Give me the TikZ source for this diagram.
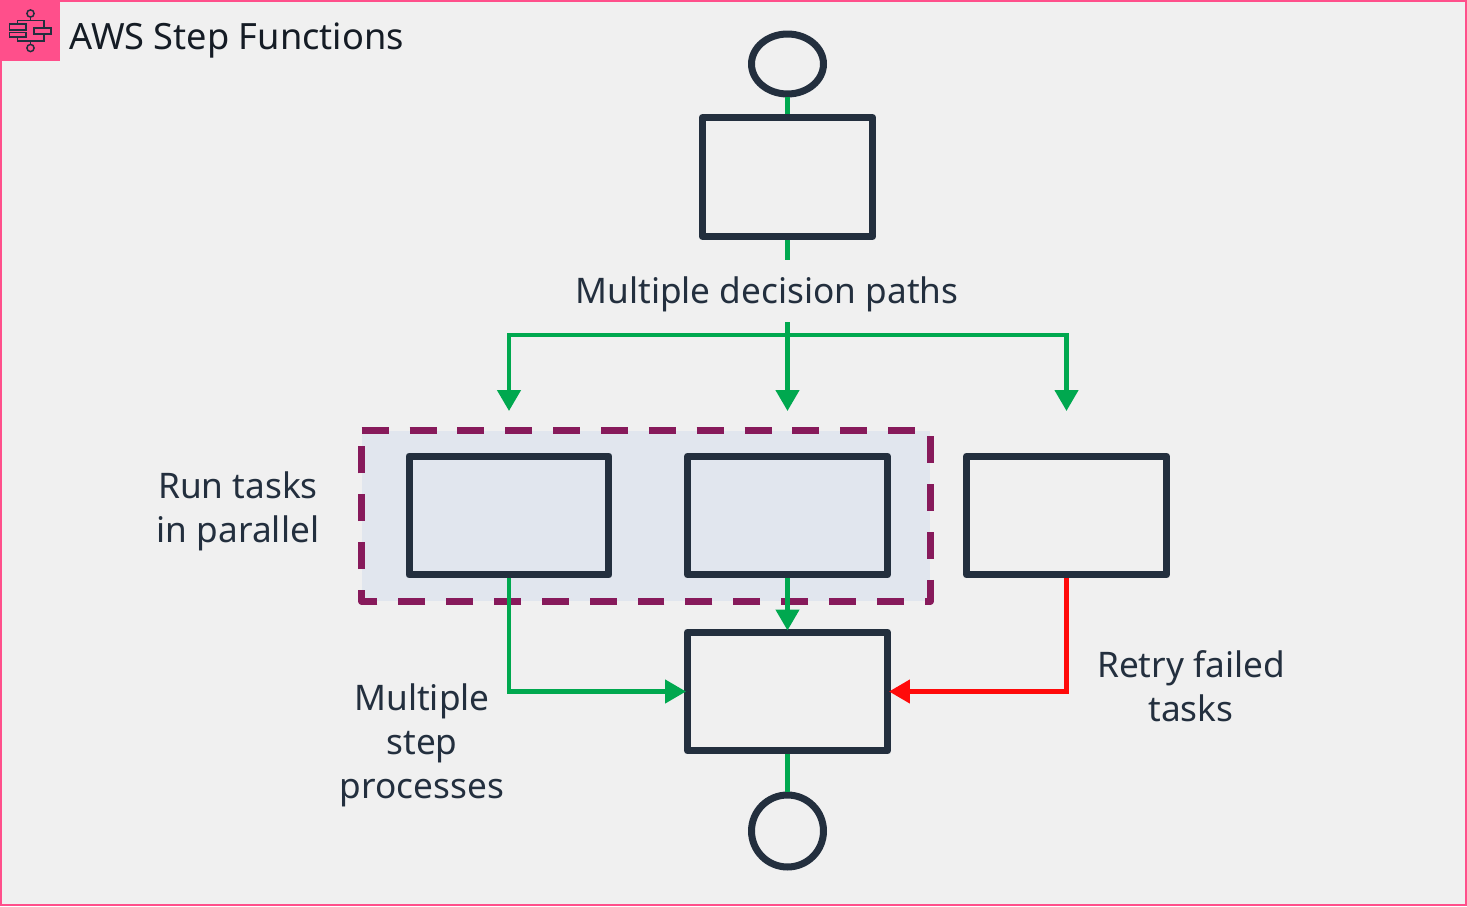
\documentclass[tikz,border=0pt]{standalone}
\usepackage{xcolor}
\usepackage{fontspec}
\setmainfont{Noto Sans}
\usetikzlibrary{arrows.meta,shapes.geometric}
\definecolor{pagebg}{HTML}{F0F0F0}
\definecolor{awspink}{HTML}{FF4F8B}
\definecolor{inkdark}{HTML}{232F3E}
\definecolor{pathgreen}{HTML}{00A84F}
\definecolor{retryred}{HTML}{FF0A0A}
\definecolor{groupline}{HTML}{871A5B}
\definecolor{groupfill}{HTML}{E1E6EE}
\tikzset{
  statebox/.style={draw=inkdark,line width=0.14cm,line join=round,minimum height=2.38cm,inner sep=0pt},
  endpoint/.style={draw=inkdark,line width=0.14cm,ellipse,inner sep=0pt},
  pathline/.style={draw=pathgreen,line width=0.09cm},
  patharrow/.style={pathline,shorten >=-0.04cm,-{Triangle[length=0.42cm,width=0.46cm]}},
  retryarrow/.style={draw=retryred,line width=0.09cm,shorten >=-0.04cm,-{Triangle[length=0.42cm,width=0.46cm]}},
  label/.style={text=inkdark,font=\fontsize{20.05}{25}\selectfont,align=center,inner sep=0pt},
  iconline/.style={draw=inkdark,line width=0.03cm}
}
\begin{document}
\begin{tikzpicture}[x=0.02cm,y=-0.02cm]
  \useasboundingbox (0,0) rectangle (1467,906);
  \fill[pagebg] (0,0) rectangle (1467,906);
  \draw[awspink,line width=0.04cm] (1,1) rectangle (1466,905);
  \fill[awspink] (0,0) rectangle (60,61);
  \draw[iconline] (30.5,13.5) circle (3.6);
  \draw[iconline] (30.5,48) circle (3.6);
  \draw[iconline] (30.5,17) -- (30.5,20.5) (17.5,24) -- (17.5,20.5) -- (44,20.5) -- (44,28);
  \draw[iconline] (30.5,44.5) -- (30.5,41) (17.5,37) -- (17.5,41) -- (44,41) -- (44,34);
  \draw[iconline] (9.5,24) rectangle (26,30);
  \draw[iconline] (9.5,32.5) rectangle (26,37);
  \draw[iconline] (34,28) rectangle (51,34);
  \node[label,text=inkdark!60!black,font=\fontsize{20.6}{25}\selectfont,anchor=west] (title) at (69,41) {AWS Step Functions};

  \node[fill=groupfill,minimum width=11.36cm,minimum height=3.4cm,inner sep=0pt] (parallel) at (646,516) {};
  \draw[groupline,line width=0.14cm,line join=round,dash pattern=on 0.54cm off 0.4174cm]
    (parallel.north west) -- (parallel.north east) -- (parallel.south east) -- (parallel.south west) -- (parallel.north west);

  \node[endpoint,minimum width=1.44cm,minimum height=1.2cm] (start) at (787.5,64) {};
  \node[statebox,minimum width=3.41cm] (first) at (787.5,177) {};
  \node[label] (decision) at (767,294) {Multiple decision paths};
  \node[statebox,minimum width=4cm] (left) at (509,515.5) {};
  \node[statebox,minimum width=4cm] (middle) at (787.5,515.5) {};
  \node[statebox,minimum width=4cm] (right) at (1066.5,515.5) {};
  \node[statebox,minimum width=4cm] (join) at (787.5,691.5) {};
  \node[endpoint,minimum width=1.44cm,minimum height=1.44cm] (finish) at (787.5,831) {};
  \node[label] (runlabel) at (238,511) {Run tasks\\in parallel};
  \node[label] (steplabel) at (422,745) {Multiple\\step\\processes};
  \node[label] (retrylabel) at (1191,686) {Retry failed\\tasks};

  \coordinate (stub) at (787.5,260);
  \coordinate (fork) at (787.5,322);
  \coordinate (bar) at (787.5,335);
  \coordinate (tipleft) at (509,409);
  \coordinate (tipmid) at (787.5,409);
  \coordinate (tipright) at (1066.5,409);

  \draw[pathline] (start) -- (first);
  \draw[pathline] (first) -- (stub);
  \draw[patharrow] (fork) -- (tipmid);
  \draw[patharrow] (bar) -| (tipleft);
  \draw[patharrow] (bar) -| (tipright);
  \draw[patharrow] (left.south) |- (join.west);
  \draw[patharrow] (middle.south) -- (join.north);
  \draw[retryarrow] (right.south) |- (join.east);
  \draw[pathline] (join) -- (finish);
\end{tikzpicture}
\end{document}
